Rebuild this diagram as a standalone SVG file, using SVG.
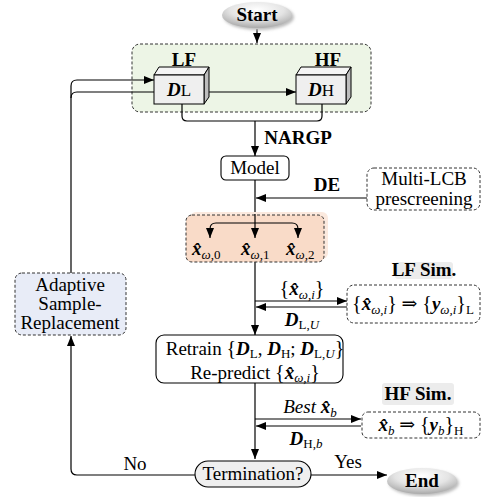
<svg xmlns="http://www.w3.org/2000/svg" width="482" height="497" viewBox="0 0 482 497" font-family="'Liberation Serif', 'DejaVu Serif', serif">
<style>
text{font-family:'Liberation Serif','DejaVu Serif',serif}
.t{font-size:19px;fill:#000}
.b{font-weight:bold}
.bi{font-weight:bold;font-style:italic}
.it{font-style:italic}
.sub{font-size:13px}
.br{font-size:20px}
.ln{fill:none;stroke:#000;stroke-width:1.2}
.ar{marker-end:url(#ah)}
.dash{stroke:#333;stroke-width:1;stroke-dasharray:3,2}
.solid{stroke:#000;stroke-width:1.1}
</style>
<defs>
<marker id="ah" viewBox="0 0 10 8" refX="10" refY="4" markerWidth="10" markerHeight="8" markerUnits="userSpaceOnUse" orient="auto">
<path d="M0,0 L10,4 L0,8 Z" fill="#000"/>
</marker>
<radialGradient id="gl" cx="50%" cy="30%" r="70%">
<stop offset="0" stop-color="#ffffff"/>
<stop offset="0.55" stop-color="#e4e4e4"/>
<stop offset="1" stop-color="#a9a9a9"/>
</radialGradient>
<filter id="sh" x="-20%" y="-30%" width="140%" height="160%">
<feGaussianBlur stdDeviation="1.5"/>
</filter>
</defs>

<g id="lf-hf-group">
<rect x="132" y="44" width="239" height="68" rx="8" fill="#edf5e6" class="dash"/>
<text class="t b" x="184" y="66" text-anchor="middle">LF</text>
<text class="t b" x="328" y="66" text-anchor="middle">HF</text>
</g>

<g id="connectors">
<path class="ln ar" d="M257,29 V43"/>
<path class="ln ar" d="M71,273 V86 Q71,80 77,80 H154"/>
<path class="ln ar" d="M71,98 Q71,92 77,92 H296"/>
<path class="ln" d="M182,104 V116 Q182,121 187,121 H317 Q322,121 322,116 V104"/>
<path class="ln ar" d="M255,121 V156"/>
<path class="ln" d="M255,180 V215"/>
<path class="ln ar" d="M367,198 H256"/>
<path class="ln ar" d="M255,262 V335"/>
<path class="ln ar" d="M255,301 H347"/>
<path class="ln ar" d="M347,307 H256"/>
<path class="ln ar" d="M255,383 V459"/>
<path class="ln ar" d="M255,419 H361"/>
<path class="ln ar" d="M361,426 H256"/>
<path class="ln ar" d="M311,475 H387"/>
<path class="ln ar" d="M195,475 H77 Q71,475 71,469 V336"/>
<text class="t b" x="298" y="144" text-anchor="middle">NARGP</text>
<text class="t b" x="327" y="191" text-anchor="middle">DE</text>
<text class="t" x="302" y="295" text-anchor="middle"><tspan class="br">{</tspan><tspan class="bi">x&#x302;</tspan><tspan class="sub it" dy="4">ω,i</tspan><tspan class="br" dy="-4">}</tspan></text>
<text class="t" x="302" y="326" text-anchor="middle"><tspan class="bi">D</tspan><tspan class="sub" dy="3">L,<tspan class="it">U</tspan></tspan></text>
<text class="t" x="310" y="413" text-anchor="middle"><tspan class="it">Best </tspan><tspan class="bi">x&#x302;</tspan><tspan class="sub it" dy="4">b</tspan></text>
<text class="t" x="306" y="445" text-anchor="middle"><tspan class="bi">D</tspan><tspan class="sub" dy="3">H,<tspan class="it">b</tspan></tspan></text>
<text class="t" x="348" y="468" text-anchor="middle">Yes</text>
<text class="t" x="135" y="470" text-anchor="middle">No</text>
</g>

<g id="start">
<ellipse cx="259" cy="17" rx="35" ry="13" fill="#bbb" filter="url(#sh)"/>
<ellipse cx="257" cy="15" rx="35" ry="13" fill="url(#gl)"/>
<text class="t b" x="257" y="21" text-anchor="middle" font-size="18">Start</text>
</g>

<g id="DL">
<polygon points="154,75 159,67 209,67 204,75" fill="#f4f4f4" stroke="#000" stroke-width="1"/>
<polygon points="204,75 209,67 209,97 204,104" fill="#bdbdbd" stroke="#000" stroke-width="1"/>
<rect x="154" y="75" width="50" height="29" fill="#efefef" stroke="#000" stroke-width="1"/>
<text class="t" x="179" y="96" text-anchor="middle"><tspan class="bi">D</tspan><tspan font-size="17">L</tspan></text>
</g>

<g id="DH">
<polygon points="296,75 301,67 351,67 346,75" fill="#f4f4f4" stroke="#000" stroke-width="1"/>
<polygon points="346,75 351,67 351,97 346,104" fill="#bdbdbd" stroke="#000" stroke-width="1"/>
<rect x="296" y="75" width="50" height="29" fill="#efefef" stroke="#000" stroke-width="1"/>
<text class="t" x="321" y="96" text-anchor="middle"><tspan class="bi">D</tspan><tspan font-size="17">H</tspan></text>
</g>

<g id="model">
<rect x="221" y="156" width="68" height="24" rx="5" fill="#fff" class="solid"/>
<text class="t" x="255" y="174" text-anchor="middle">Model</text>
</g>

<g id="multi-lcb">
<rect x="367" y="168" width="113" height="42" rx="7" fill="#fff" class="dash"/>
<text class="t" x="424" y="185" text-anchor="middle" font-size="18">Multi-LCB</text>
<text class="t" x="424" y="205" text-anchor="middle" font-size="18">prescreening</text>
</g>

<g id="candidates">
<rect x="190" y="212" width="138" height="47" rx="6" fill="#fbe9de"/>
<rect x="186" y="215" width="138" height="47" rx="6" fill="#f9dbc8" class="dash"/>
<path class="ln ar" d="M255,223 H216 Q210,223 210,229 V238"/>
<path class="ln ar" d="M255,223 H292 Q298,223 298,229 V238"/>
<path class="ln ar" d="M255,214 V238"/>
<text class="t" x="192" y="255"><tspan class="bi">x&#x302;</tspan><tspan class="sub" dy="4"><tspan class="it">ω</tspan>,0</tspan></text>
<text class="t" x="241" y="255"><tspan class="bi">x&#x302;</tspan><tspan class="sub" dy="4"><tspan class="it">ω</tspan>,1</tspan></text>
<text class="t" x="286" y="255"><tspan class="bi">x&#x302;</tspan><tspan class="sub" dy="4"><tspan class="it">ω</tspan>,2</tspan></text>
</g>

<g id="lf-sim">
<rect x="395" y="262" width="58" height="17" rx="3" fill="#ececec"/>
<text class="t b" x="424" y="276" text-anchor="middle" font-size="16">LF Sim.</text>
<rect x="347" y="285" width="133" height="38" rx="7" fill="#fff" class="dash"/>
<text class="t" x="413" y="310" text-anchor="middle"><tspan class="br">{</tspan><tspan class="bi">x&#x302;</tspan><tspan class="sub it" dy="4">ω,i</tspan><tspan class="br" dy="-4">}</tspan> ⇒ <tspan class="br">{</tspan><tspan class="bi">y</tspan><tspan class="sub it" dy="4">ω,i</tspan><tspan class="br" dy="-4">}</tspan><tspan class="sub" dy="4">L</tspan></text>
</g>

<g id="retrain">
<rect x="156" y="335" width="187" height="48" rx="8" fill="#fff" class="solid"/>
<text class="t" x="255" y="355" text-anchor="middle">Retrain <tspan class="br">{</tspan><tspan class="bi">D</tspan><tspan class="sub" dy="3">L</tspan><tspan dy="-3">, </tspan><tspan class="bi">D</tspan><tspan class="sub" dy="3">H</tspan><tspan dy="-3">; </tspan><tspan class="bi">D</tspan><tspan class="sub" dy="3">L,<tspan class="it">U</tspan></tspan><tspan class="br" dy="-3">}</tspan></text>
<text class="t" x="255" y="379" text-anchor="middle">Re-predict <tspan class="br">{</tspan><tspan class="bi">x&#x302;</tspan><tspan class="sub it" dy="3">ω,i</tspan><tspan class="br" dy="-3">}</tspan></text>
</g>

<g id="hf-sim">
<rect x="382" y="383" width="72" height="22" rx="3" fill="#ececec"/>
<text class="t b" x="418" y="400" text-anchor="middle">HF Sim.</text>
<rect x="362" y="412" width="118" height="26" rx="6" fill="#fff" class="dash"/>
<text class="t" x="421" y="431" text-anchor="middle"><tspan class="bi">x&#x302;</tspan><tspan class="sub it" dy="4">b</tspan><tspan dy="-4"> ⇒ </tspan><tspan class="br">{</tspan><tspan class="bi">y</tspan><tspan class="sub it" dy="4">b</tspan><tspan class="br" dy="-4">}</tspan><tspan class="sub" dy="4">H</tspan></text>
</g>

<g id="termination">
<rect x="195" y="461" width="116" height="26" rx="13" fill="#efefef" class="solid"/>
<text class="t" x="253" y="480" text-anchor="middle">Termination?</text>
</g>

<g id="end">
<ellipse cx="424" cy="483" rx="35" ry="13" fill="#bbb" filter="url(#sh)"/>
<ellipse cx="422" cy="481" rx="35" ry="13" fill="url(#gl)"/>
<text class="t b" x="422" y="487" text-anchor="middle" font-size="18">End</text>
</g>

<g id="adaptive">
<rect x="15" y="273" width="111" height="62" rx="7" fill="#e8ecf7" class="dash"/>
<text class="t" x="70" y="291" text-anchor="middle" font-size="18">Adaptive</text>
<text class="t" x="70" y="310" text-anchor="middle" font-size="18">Sample-</text>
<text class="t" x="70" y="329" text-anchor="middle" font-size="18">Replacement</text>
</g>
</svg>
